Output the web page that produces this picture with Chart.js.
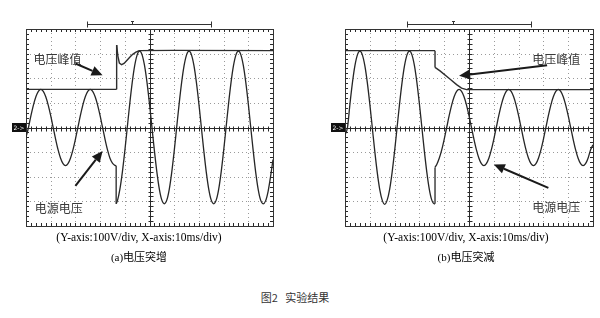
<!DOCTYPE html>
<html>
<head>
<meta charset="utf-8">
<script src="https://cdn.jsdelivr.net/npm/chart.js@4"></script>
<style>
  html, body { margin: 0; padding: 0; background: #fff; }
  #wrap { position: relative; width: 600px; height: 318px; overflow: hidden; background: #fff; }
  canvas { position: absolute; top: 0; }
  .cap { position: absolute; width: 300px; text-align: center; color: #000; white-space: nowrap; }
  .en { font-family: "Liberation Serif", "DejaVu Serif", serif; font-size: 11.5px; }
  .cn { font-family: "Liberation Serif", "Noto Sans CJK SC", serif; font-size: 11px; }
  .title { font-family: "Noto Sans CJK SC", sans-serif; font-size: 11px; color: #333; }
</style>
</head>
<body>
<div id="wrap">
  <canvas id="chartA" width="300" height="240" style="left:0px"></canvas>
  <canvas id="chartB" width="300" height="240" style="left:300px"></canvas>
  <div class="cap en" style="left:-11px; top:231px;">(Y-axis:100V/div, X-axis:10ms/div)</div>
  <div class="cap cn" style="left:-11px; top:248px;">(a)<span style="font-family:'Noto Sans CJK SC'">电压突增</span></div>
  <div class="cap en" style="left:316px; top:231px;">(Y-axis:100V/div, X-axis:10ms/div)</div>
  <div class="cap cn" style="left:316px; top:248px;">(b)<span style="font-family:'Noto Sans CJK SC'">电压突减</span></div>
  <div class="cap title" style="left:145px; top:289px;">图2&nbsp;&nbsp;&nbsp;实验结果</div>
</div>
<script>
// ---- Data (x in divisions of 10 ms, y in divisions of 100 V) ----
const timeA = [0.0,0.1,0.2,0.3,0.4,0.5,0.6,0.7,0.8,0.9,1.0,1.1,1.2,1.3,1.4,1.5,1.6,1.7,1.8,1.9,2.0,
  2.1,2.2,2.3,2.4,2.5,2.6,2.7,2.8,2.9,3.0,3.1,3.2,3.3,3.4,3.5,3.6,3.65,3.65,3.7,3.8,3.9,4.0,
  4.1,4.2,4.3,4.4,4.5,4.6,4.7,4.8,4.9,5.0,5.1,5.2,5.3,5.4,5.5,5.6,5.7,5.8,5.9,6.0,
  6.1,6.2,6.3,6.4,6.5,6.6,6.7,6.8,6.9,7.0,7.1,7.2,7.3,7.4,7.5,7.6,7.7,7.8,7.9,8.0,
  8.1,8.2,8.3,8.4,8.5,8.6,8.7,8.8,8.9,9.0,9.1,9.2,9.3,9.4,9.5,9.6,9.7,9.8,9.9,10.0];
const supplyA = [-0.40,0.00,0.48,0.91,1.25,1.47,1.55,1.47,1.25,0.91,0.48,0.00,-0.48,-0.91,-1.25,-1.47,-1.55,-1.47,-1.25,-0.91,-0.48,
  0.00,0.48,0.91,1.25,1.47,1.55,1.47,1.25,0.91,0.48,0.00,-0.48,-0.91,-1.25,-1.45,-1.54,-1.55,-3.10,-2.98,-2.51,-1.82,-0.96,
  0.00,0.96,1.82,2.51,2.95,3.10,2.95,2.51,1.82,0.96,0.00,-0.96,-1.82,-2.51,-2.95,-3.10,-2.95,-2.51,-1.82,-0.96,
  0.00,0.96,1.82,2.51,2.95,3.10,2.95,2.51,1.82,0.96,0.00,-0.96,-1.82,-2.51,-2.95,-3.10,-2.95,-2.51,-1.82,-0.96,
  0.00,0.96,1.82,2.51,2.95,3.10,2.95,2.51,1.82,0.96,0.00,-0.96,-1.82,-2.51,-2.95,-3.10,-2.98,-2.60,-2.00,-1.30];
const peakTimeA = [0.0,3.67,3.67,3.72,3.78,3.87,3.97,4.08,4.20,4.32,4.45,4.58,6.00,10.0];
const peakA     = [1.55,1.55,3.35,2.90,2.62,2.55,2.60,2.72,2.85,2.97,3.06,3.12,3.13,3.12];

const timeB = [0.0,0.1,0.2,0.3,0.4,0.5,0.6,0.7,0.8,0.9,1.0,1.1,1.2,1.3,1.4,1.5,1.6,1.7,1.8,1.9,2.0,
  2.1,2.2,2.3,2.4,2.5,2.6,2.7,2.8,2.9,3.0,3.1,3.2,3.3,3.4,3.5,3.6,3.63,3.63,3.7,3.8,3.9,4.0,
  4.1,4.2,4.3,4.4,4.5,4.6,4.7,4.8,4.9,5.0,5.1,5.2,5.3,5.4,5.5,5.6,5.7,5.8,5.9,6.0,
  6.1,6.2,6.3,6.4,6.5,6.6,6.7,6.8,6.9,7.0,7.1,7.2,7.3,7.4,7.5,7.6,7.7,7.8,7.9,8.0,
  8.1,8.2,8.3,8.4,8.5,8.6,8.7,8.8,8.9,9.0,9.1,9.2,9.3,9.4,9.5,9.6,9.7,9.8,9.9,10.0];
const supplyB = [-0.30,0.00,0.96,1.82,2.51,2.95,3.10,2.95,2.51,1.82,0.96,0.00,-0.96,-1.82,-2.51,-2.95,-3.12,-2.95,-2.51,-1.82,-0.96,
  0.00,0.96,1.82,2.51,2.95,3.10,2.95,2.51,1.82,0.96,0.00,-0.96,-1.82,-2.51,-2.95,-3.10,-3.10,-1.62,-1.50,-1.25,-0.91,-0.48,
  0.00,0.48,0.91,1.25,1.47,1.55,1.47,1.25,0.91,0.48,0.00,-0.48,-0.91,-1.25,-1.47,-1.55,-1.47,-1.25,-0.91,-0.48,
  0.00,0.48,0.91,1.25,1.47,1.55,1.47,1.25,0.91,0.48,0.00,-0.48,-0.91,-1.25,-1.47,-1.55,-1.47,-1.25,-0.91,-0.48,
  0.00,0.48,0.91,1.25,1.47,1.55,1.47,1.25,0.91,0.48,0.00,-0.48,-0.91,-1.25,-1.47,-1.55,-1.47,-1.25,-0.91,-0.70];
const peakTimeB = [0.0,3.63,3.63,3.83,4.23,4.50,4.70,4.90,10.0];
const peakB     = [3.12,3.12,2.44,2.30,1.97,1.74,1.60,1.54,1.54];

const labelPeak = "电压峰值";
const labelSupply = "电源电压";
const channelMarker = "2->";

// ---- Oscilloscope screen plugin ----
const scopePlugin = {
  id: 'scope',
  beforeDatasetsDraw(chart, args, o) {
    const { ctx, chartArea: a, scales: { x, y } } = chart;
    const L = (x1, y1, x2, y2) => { ctx.beginPath(); ctx.moveTo(x1, y1); ctx.lineTo(x2, y2); ctx.stroke(); };
    ctx.save();
    ctx.lineWidth = 1;
    ctx.strokeStyle = '#9a9a9a';
    ctx.setLineDash([1, 3]);
    for (let i = x.min + 1; i < x.max; i++) {
      if (i === 5) continue;
      const px = Math.round(x.getPixelForValue(i)) + 0.5;
      L(px, a.top, px, a.bottom);
    }
    for (let j = y.min + 1; j < y.max; j++) {
      if (j === 0) continue;
      const py = Math.round(y.getPixelForValue(j)) + 0.5;
      L(a.left, py, a.right, py);
    }
    ctx.setLineDash([]);
    ctx.strokeStyle = '#2a2a2a';
    const cx = Math.round(x.getPixelForValue(5)) + 0.5;
    const cy = Math.round(y.getPixelForValue(0)) + 0.5;
    L(a.left, cy, a.right, cy);
    L(cx, a.top, cx, a.bottom);
    for (let k = 0; k <= 50; k++) {
      const px = Math.round(x.getPixelForValue(k * 0.2)) + 0.5;
      L(px, cy - 2, px, cy + 3);
      L(px, a.top, px, a.top + 3);
      L(px, a.bottom - 3, px, a.bottom);
    }
    for (let k = 0; k <= 40; k++) {
      const py = Math.round(y.getPixelForValue(-4 + k * 0.2)) + 0.5;
      L(cx - 2, py, cx + 3, py);
      L(a.left, py, a.left + 3, py);
      L(a.right - 3, py, a.right, py);
    }
    ctx.strokeStyle = '#333';
    ctx.strokeRect(Math.round(a.left) + 0.5, Math.round(a.top) + 0.5, Math.round(a.right - a.left), Math.round(a.bottom - a.top));
    ctx.restore();
  },
  afterDraw(chart, args, o) {
    const { ctx, chartArea: a, scales: { x, y } } = chart;
    const L = (x1, y1, x2, y2) => { ctx.beginPath(); ctx.moveTo(x1, y1); ctx.lineTo(x2, y2); ctx.stroke(); };
    ctx.save();
    ctx.strokeStyle = '#333'; ctx.lineWidth = 1;
    const tb = o.trigger;
    const ty = Math.round(a.top) - 4.5;
    const t1 = Math.round(x.getPixelForValue(tb[0])) + 0.5, t2 = Math.round(x.getPixelForValue(tb[1])) + 0.5, tt = Math.round(x.getPixelForValue(tb[2])) + 0.5;
    L(t1, ty, t2, ty); L(t1, ty - 3, t1, ty + 3); L(t2, ty - 3, t2, ty + 3);
    L(tt, ty - 3, tt, ty); L(tt - 1.5, ty - 3, tt + 1.5, ty - 3);
    const cy = y.getPixelForValue(0);
    ctx.fillStyle = '#111';
    ctx.fillRect(a.left - 14, cy - 4.5, 14, 9);
    ctx.fillStyle = '#fff';
    ctx.font = '6px "DejaVu Sans"';
    ctx.textAlign = 'center'; ctx.textBaseline = 'middle';
    ctx.fillText(channelMarker, a.left - 7, cy + 0.5);
    ctx.fillStyle = '#3a3a3a';
    ctx.font = '12px "Noto Sans CJK SC"';
    ctx.textAlign = 'left';
    o.labels.forEach(l => {
      ctx.fillText(l.text, x.getPixelForValue(l.x), y.getPixelForValue(l.y));
    });
    ctx.strokeStyle = '#1a1a1a'; ctx.fillStyle = '#1a1a1a'; ctx.lineWidth = 2;
    o.arrows.forEach(ar => {
      const x1 = x.getPixelForValue(ar[0]), y1 = y.getPixelForValue(ar[1]);
      const x2 = x.getPixelForValue(ar[2]), y2 = y.getPixelForValue(ar[3]);
      const ang = Math.atan2(y2 - y1, x2 - x1);
      const hl = 11, hw = 5;
      const bx = x2 - hl * Math.cos(ang), by = y2 - hl * Math.sin(ang);
      L(x1, y1, bx, by);
      ctx.beginPath();
      ctx.moveTo(x2, y2);
      ctx.lineTo(bx + hw * Math.sin(ang), by - hw * Math.cos(ang));
      ctx.lineTo(bx - hw * Math.sin(ang), by + hw * Math.cos(ang));
      ctx.closePath(); ctx.fill();
    });
    ctx.restore();
  }
};

// split a trace at repeated time values (vertical jumps) so smoothing stays on each smooth piece
function traceDatasets(tArr, vArr, color, width) {
  const pts = tArr.map((t, i) => ({ x: t, y: vArr[i] }));
  const sets = [];
  let start = 0;
  for (let i = 1; i < pts.length; i++) {
    if (pts[i].x === pts[i - 1].x) {
      sets.push({ data: pts.slice(start, i), mono: true });
      sets.push({ data: [pts[i - 1], pts[i]], mono: false });
      start = i;
    }
  }
  sets.push({ data: pts.slice(start), mono: true });
  return sets.map(s => ({
    data: s.data, showLine: true, borderColor: color, borderWidth: width, pointRadius: 0,
    tension: s.mono ? 0.4 : 0, cubicInterpolationMode: s.mono ? 'monotone' : 'default'
  }));
}

function makeChart(id, tArr, vArr, ptArr, pArr, pad, scopeOpts) {
  const peakSets = traceDatasets(ptArr, pArr, '#2e2e2e', 1.4).map(d => Object.assign(d, { tension: 0, cubicInterpolationMode: 'default' }));
  return new Chart(document.getElementById(id), {
    type: 'scatter',
    data: { datasets: traceDatasets(tArr, vArr, '#262626', 1.3).concat(peakSets) },
    options: {
      responsive: false, animation: false, devicePixelRatio: 1,
      layout: { padding: pad },
      scales: {
        x: { type: 'linear', min: 0, max: 10, display: false },
        y: { type: 'linear', min: -4, max: 4, display: false }
      },
      plugins: { legend: { display: false }, tooltip: { enabled: false }, scope: scopeOpts }
    },
    plugins: [scopePlugin]
  });
}

makeChart('chartA', timeA, supplyA, peakTimeA, peakA,
  { left: 26, right: 27, top: 29, bottom: 14 },
  {
    trigger: [2.45, 7.5, 4.3],
    labels: [ { text: labelPeak, x: 0.3, y: 2.75 }, { text: labelSupply, x: 0.35, y: -3.3 } ],
    arrows: [ [2.0, 2.6, 3.1, 2.12], [2.0, -2.37, 3.1, -0.95] ]
  });
makeChart('chartB', timeB, supplyB, peakTimeB, peakB,
  { left: 45, right: 7, top: 29, bottom: 14 },
  {
    trigger: [2.5, 7.5, 4.35],
    labels: [ { text: labelPeak, x: 7.55, y: 2.75 }, { text: labelSupply, x: 7.55, y: -3.25 } ],
    arrows: [ [8.15, 2.53, 4.6, 2.1], [8.2, -2.45, 6.0, -1.5] ]
  });
</script>
</body>
</html>
